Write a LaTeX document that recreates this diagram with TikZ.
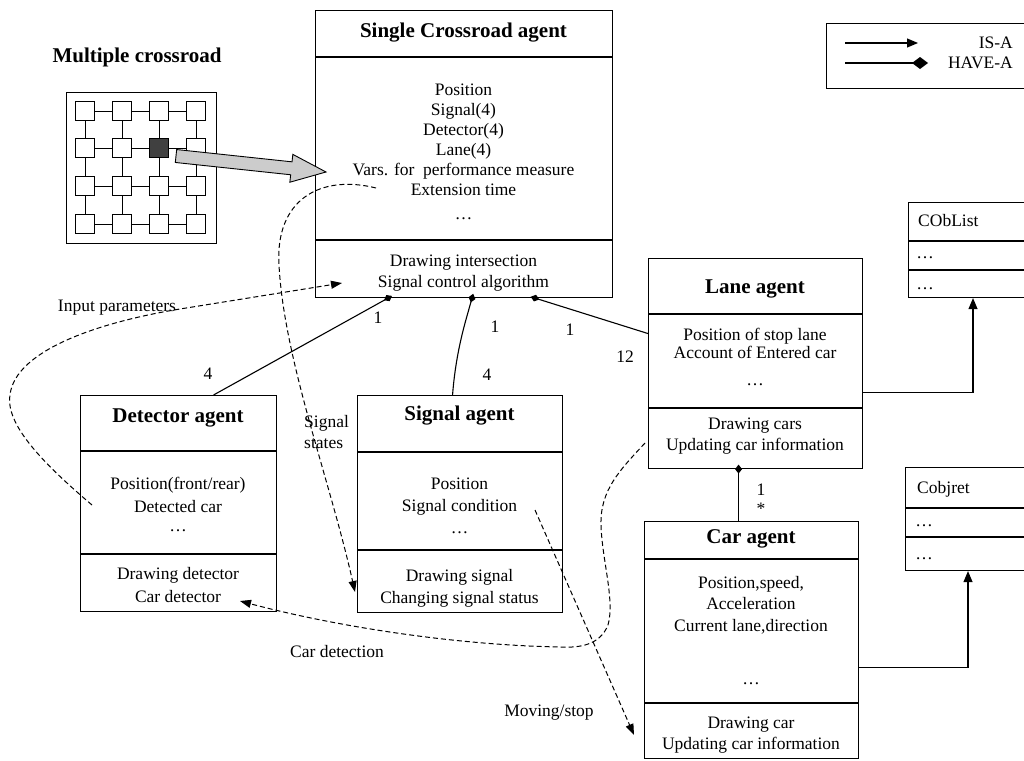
\documentclass[tikz,border=0pt]{standalone}
\usepackage{fontspec}
\setmainfont{Liberation Serif}
\usetikzlibrary{arrows.meta,calc}
\begin{document}
\begin{tikzpicture}[x=1pt,y=-1pt,
  box/.style={draw,line width=1.1pt,anchor=north west,inner sep=0pt},
  body/.style={font=\fontsize{17.5}{21}\selectfont,align=center,inner sep=0pt},
  ttl/.style={font=\fontsize{21}{24}\selectfont\bfseries,inner sep=0pt},
  lbl/.style={font=\fontsize{17.5}{21}\selectfont,inner sep=0pt},
  dline/.style={line width=1.1pt},
  have/.style={line width=1.1pt,-{Diamond[length=9pt,width=7pt]},shorten >=-4.5pt},
  isa/.style={line width=1.1pt,-{Triangle[length=11pt,width=9pt]}},
  flow/.style={line width=1pt,dash pattern=on 5pt off 3pt,-{Triangle[length=11pt,width=8pt]}},
  gsq/.style={draw,line width=1pt,minimum size=19pt,inner sep=0pt,fill=white}
]
\useasboundingbox (0,0) rectangle (1024,760);
\clip (0,0) rectangle (1024,760);

% ---------- Multiple crossroad ----------
\node[ttl] (mc) at (137,57) {Multiple crossroad};
\node[box,minimum width=150pt,minimum height=151pt,line width=1pt] (grid) at (66,92) {};
\foreach \i/\x in {1/85,2/122,3/159,4/196}
  \foreach \j/\y in {1/111,2/148,3/186,4/224}
    \node[gsq] (g\i\j) at (\x,\y) {};
\node[gsq,fill=black!75] at (g32) {};
\foreach \j in {1,2,3,4} \draw[line width=1pt] (g1\j) -- (g2\j) -- (g3\j) -- (g4\j);
\foreach \i in {1,2,3,4} \draw[line width=1pt] (g\i1) -- (g\i2) -- (g\i3) -- (g\i4);

% ---------- Single Crossroad agent ----------
\node[box,minimum width=297pt,minimum height=287pt] (sca) at (315,10) {};
\draw[dline] (315,57) -- (612,57);
\draw[dline] (315,240) -- (612,240);
\node[ttl] (scaT) at (463.5,33) {Single Crossroad agent};
\node[body,font=\fontsize{17.5}{20}\selectfont] (scaA) at (463.5,140) {Position\\Signal(4)\\Detector(4)\\Lane(4)\\Vars. for~~performance measure\\Extension time};
\node[body] (scaD) at (463.5,219) {\dots};
\node[body] (scaM) at (463.5,273) {Drawing intersection\\Signal control algorithm};

% big arrow
\coordinate (baA) at (176,156);
\coordinate (baB) at (326,172);
\coordinate (baH) at ($(baA)!116pt!(baB)$);
\filldraw[fill=gray!40,draw=black,line width=0.9pt]
  ($(baA)!6.5pt!90:(baB)$) -- ($(baH)!6.5pt!90:(baB)$) -- ($(baH)!14pt!90:(baB)$) -- (baB)
  -- ($(baH)!14pt!-90:(baB)$) -- ($(baH)!6.5pt!-90:(baB)$) -- ($(baA)!6.5pt!-90:(baB)$) -- cycle;

% ---------- Legend ----------
\node[box,minimum width=220pt,minimum height=65pt] (leg) at (826,23) {};
\coordinate (la1) at (845,43); \coordinate (la2) at (918,43);
\draw[isa] (la1) -- (la2);
\coordinate (lb1) at (845,63); \coordinate (lb2) at (928,63);
\draw[line width=1.8pt,-{Diamond[length=16pt,width=12pt]}] (lb1) -- (lb2);
\node[lbl,anchor=east] (isaT) at (1013,43) {IS-A};
\node[lbl,anchor=east] (haveT) at (1013,63) {HAVE-A};

% ---------- CObList ----------
\node[box,minimum width=140pt,minimum height=95pt] (cob) at (908,202) {};
\draw[dline] (908,241) -- (1030,241);
\draw[dline] (908,270) -- (1030,270);
\node[lbl,anchor=west] (cobT) at (918,221) {CObList};
\node[lbl] (cobD1) at (925,258) {\dots};
\node[lbl] (cobD2) at (925,289) {\dots};

% ---------- Cobjret ----------
\node[box,minimum width=140pt,minimum height=103pt] (cobj) at (905,467) {};
\draw[dline] (905,508) -- (1030,508);
\draw[dline] (905,537) -- (1030,537);
\node[lbl,anchor=west] (cobjT) at (917,489) {Cobjret};
\node[lbl] (cobjD1) at (924,526) {\dots};
\node[lbl] (cobjD2) at (924,559) {\dots};

% ---------- Lane agent ----------
\node[box,minimum width=214pt,minimum height=210pt] (lane) at (648,258) {};
\draw[dline] (648,314) -- (862,314);
\draw[dline] (648,408) -- (862,408);
\node[ttl] (laneT) at (755,289) {Lane agent};
\node[body,font=\fontsize{17.5}{18}\selectfont] (laneA) at (755,343.5) {Position of stop lane\\Account of Entered car};
\node[body] (laneD) at (755,385) {\dots};
\node[body] (laneM) at (755,436.5) {Drawing cars\\Updating car information};

% ---------- Detector agent ----------
\node[box,minimum width=196pt,minimum height=216pt] (det) at (80,395) {};
\draw[dline] (80,451) -- (276,451);
\draw[dline] (80,554) -- (276,554);
\node[ttl] (detT) at (178,418) {Detector agent};
\node[body,font=\fontsize{17.5}{23}\selectfont] (detA) at (178,494.5) {Position(front/rear)\\Detected car};
\node[body] (detD) at (178,531) {\dots};
\node[body,font=\fontsize{17.5}{23}\selectfont] (detM) at (178,585.5) {Drawing detector\\Car detector};

% ---------- Signal agent ----------
\node[box,minimum width=205pt,minimum height=217pt] (sig) at (357,395) {};
\draw[dline] (357,452) -- (562,452);
\draw[dline] (357,550) -- (562,550);
\node[ttl] (sigT) at (459.5,416) {Signal agent};
\node[body,font=\fontsize{17.5}{22}\selectfont] (sigA) at (459.5,497) {Position\\Signal condition};
\node[body] (sigD) at (459.5,533) {\dots};
\node[body,font=\fontsize{17.5}{22}\selectfont] (sigM) at (459.5,588) {Drawing signal\\Changing signal status};

% ---------- Car agent ----------
\node[box,minimum width=214pt,minimum height=237pt] (car) at (644,521) {};
\draw[dline] (644,559) -- (858,559);
\draw[dline] (644,703) -- (858,703);
\node[ttl] (carT) at (751,539) {Car agent};
\node[body,font=\fontsize{17.5}{21.5}\selectfont] (carA) at (751,605) {Position,speed,\\Acceleration\\Current lane,direction};
\node[body] (carD) at (751,684) {\dots};
\node[body] (carM) at (751,735.5) {Drawing car\\Updating car information};

% ---------- HAVE-A connectors ----------
\draw[have] ([xshift=35pt]det.north) -- ([xshift=73pt]sca.south west);
\draw[have] ([xshift=-7.5pt]sig.north) .. controls (456,350) and (466,320) .. ([xshift=157pt]sca.south west);
\draw[have] ([yshift=30pt]lane.west) -- ([xshift=220pt]sca.south west);
\draw[have] ([xshift=-13pt]car.north) -- ([xshift=-17pt]lane.south);

% ---------- IS-A connectors ----------
\draw[isa] ([yshift=-29pt]lane.east) -| ([xshift=65pt]cob.south west);
\draw[isa] ([yshift=-27.5pt]car.east) -| ([xshift=63pt]cobj.south west);

% ---------- multiplicities ----------
\node[lbl] (m1a) at (378,318) {1};
\node[lbl] (m4a) at (208,374) {4};
\node[lbl] (m1b) at (495,327) {1};
\node[lbl] (m4b) at (487,375) {4};
\node[lbl] (m1c) at (570,330) {1};
\node[lbl] (m12) at (625,357) {12};
\node[lbl] (m1d) at (761,490) {1};
\node[lbl] (mst) at (761,509) {*};

% ---------- dashed message flows ----------
\coordinate (ipS) at (92,505);
\coordinate (ipE) at (342,283);
\draw[flow] (ipS) .. controls (45,465) and (5,425) .. (10,395) .. controls (15,350) and (100,322) .. (180,309) -- (ipE);
\node[lbl] (ipT) at (117,308) {Input parameters};

\coordinate (ssS) at (376,188);
\coordinate (ssE) at (355,592);
\draw[flow] (ssS) .. controls (320,174) and (275,200) .. (279,265) .. controls (284,360) and (330,480) .. (ssE);
\node[lbl,align=left,anchor=west] (ssT) at (304,432) {Signal\\states};

\coordinate (cdS) at (645,443);
\coordinate (cdE) at (240,601);
\draw[flow] (cdS) .. controls (620,470) and (600,490) .. (601,525) .. controls (602,560) and (615,600) .. (608,625) .. controls (600,645) and (580,648) .. (560,647) .. controls (450,645) and (330,625) .. (cdE);
\node[lbl] (cdT) at (337,652) {Car detection};

\coordinate (msS) at (535,510);
\coordinate (msE) at (634,735);
\draw[flow] (msS) -- (msE);
\node[lbl] (msT) at (549,713) {Moving/stop};
\end{tikzpicture}
\end{document}
